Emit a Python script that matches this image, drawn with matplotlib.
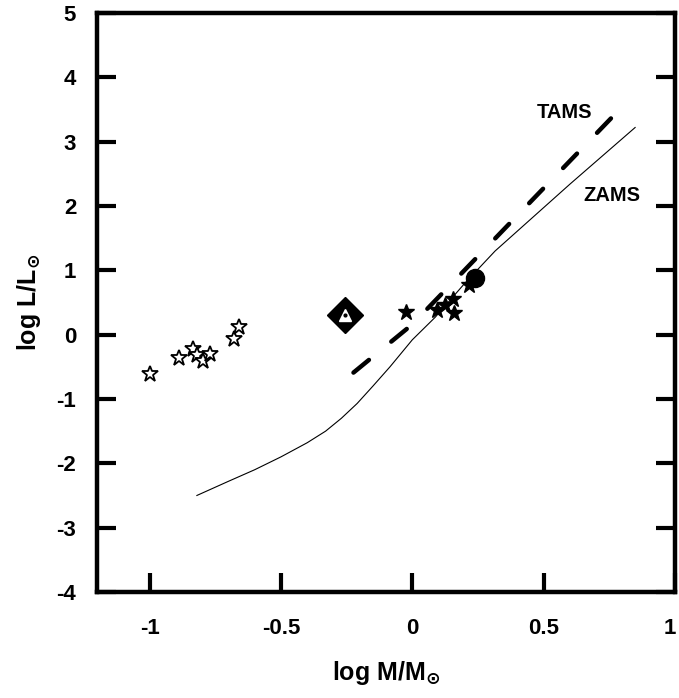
import matplotlib
matplotlib.use("Agg")
import matplotlib.pyplot as plt
import matplotlib.transforms as mtransforms

plt.rcParams['font.family'] = ['Liberation Sans', 'DejaVu Sans']
plt.rcParams['font.weight'] = 'bold'
plt.rcParams['axes.unicode_minus'] = False

# ZAMS (thin solid line)
zams_x = [-0.82, -0.7, -0.6, -0.5, -0.4, -0.33, -0.27, -0.21, -0.15, -0.085, 0.0, 0.087, 0.2, 0.315, 0.6, 0.848]
zams_y = [-2.5, -2.28, -2.1, -1.9, -1.68, -1.5, -1.3, -1.07, -0.8, -0.5, -0.08, 0.27, 0.8, 1.3, 2.34, 3.22]

# TAMS (thick dashed line)
tams_x = [-0.224, 0.0, 0.34, 0.784]
tams_y = [-0.59, 0.16, 1.6, 3.48]

# open stars
open_x = [-0.998, -0.888, -0.835, -0.819, -0.797, -0.770, -0.679, -0.659]
open_y = [-0.61, -0.37, -0.23, -0.31, -0.41, -0.30, -0.06, 0.12]

# filled stars
fill_x = [-0.025, 0.095, 0.125, 0.155, 0.16, 0.215]
fill_y = [0.35, 0.38, 0.46, 0.55, 0.33, 0.77]

# filled circle
circ_x = [0.239]
circ_y = [0.88]

# diamond
diam_x = [-0.256]
diam_y = [0.31]

fig = plt.figure(figsize=(6.79, 6.98), dpi=100)
ax = fig.add_axes([0.1429, 0.1519, 0.8513, 0.8295])

ax.plot(zams_x, zams_y, color='black', lw=0.8)
ax.plot(tams_x, tams_y, color='black', lw=3.2, linestyle=(0, (4.5, 6.5)),
        dash_capstyle='round')

ax.plot(open_x, open_y, '*', ms=12, mfc='white', mec='black', mew=1.3, ls='none')
ax.plot(fill_x, fill_y, '*', ms=12, mfc='black', mec='black', ls='none')
ax.plot(circ_x, circ_y, 'o', ms=13, mfc='black', mec='black', ls='none')

ax.plot(diam_x, diam_y, 'D', ms=18, mfc='black', mec='black', ls='none')
ax.plot(diam_x, diam_y, '^', ms=9, mfc='white', mec='white', ls='none')
ax.plot(diam_x, diam_y, 'o', ms=2, mfc='black', mec='black', ls='none')

ax.text(0.578, 3.45, 'TAMS', fontsize=14.5, fontweight='bold', ha='center', va='center')
ax.text(0.76, 2.17, 'ZAMS', fontsize=14.5, fontweight='bold', ha='center', va='center')

ax.set_xlim(-1.2, 1.0)
ax.set_ylim(-4, 5)
ax.set_xticks([-1, -0.5, 0, 0.5, 1])
ax.set_xticklabels(['-1', '-0.5', '0', '0.5', '1'])
ax.set_yticks(range(-4, 6))

for s in ax.spines.values():
    s.set_linewidth(3.2)

ax.tick_params(axis='both', direction='in', length=14, width=3, labelsize=16)
ax.tick_params(axis='y', right=True, pad=15)
ax.tick_params(axis='x', top=False, pad=19)
for lab in ax.get_xticklabels() + ax.get_yticklabels():
    lab.set_fontweight('bold')

# last x label sits right on the figure edge: nudge it a little left
last = ax.get_xticklabels()[-1]
last.set_transform(last.get_transform() +
                   mtransforms.ScaledTranslation(-4 / 72, 0, fig.dpi_scale_trans))

ax.set_xlabel(r'log M/M$_{\odot}$', fontsize=18, fontweight='bold')
ax.set_ylabel(r'log L/L$_{\odot}$', fontsize=18, fontweight='bold')
ax.xaxis.set_label_coords(0.5, -0.115)
ax.yaxis.set_label_coords(-0.093, 0.5)

fig.savefig('out.png', dpi=100)
